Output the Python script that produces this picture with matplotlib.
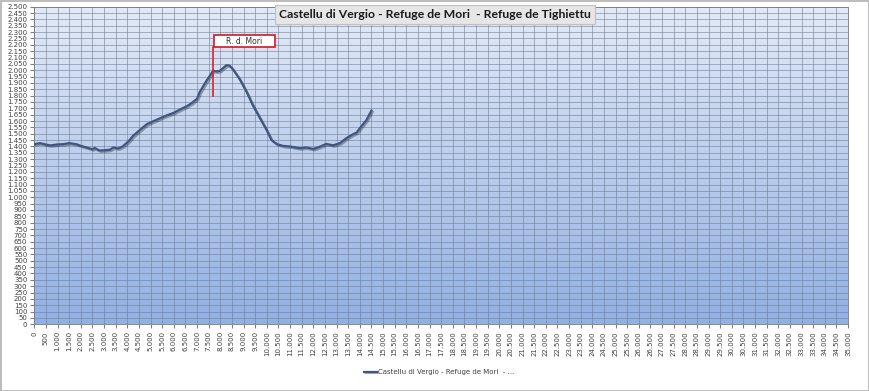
import matplotlib.pyplot as plt
import matplotlib.patheffects as pe
from matplotlib.patches import Rectangle
from matplotlib.ticker import MultipleLocator, FuncFormatter
import numpy as np

# distance (m) and elevation (m)
dist = [0, 250, 500, 700, 1000, 1250, 1500, 1800, 2000, 2250,
        2500, 2600, 2800, 3000, 3250, 3400, 3600, 3800, 4050, 4250,
        4550, 4830, 5100, 5400, 5700, 6000, 6250, 6550, 6760, 7000,
        7120, 7400, 7690, 7840, 7980, 8120, 8270, 8410, 8550, 8840,
        9130, 9410, 9700, 9990, 10200, 10420, 10700, 11000, 11420, 11700,
        12000, 12280, 12560, 12850, 13140, 13420, 13710, 13860, 14000, 14290,
        14500]
elev = [1418, 1426, 1415, 1408, 1416, 1418, 1426, 1418, 1405, 1392,
        1378, 1388, 1368, 1370, 1374, 1392, 1384, 1400, 1440, 1484,
        1531, 1574, 1597, 1621, 1645, 1665, 1689, 1716, 1740, 1775,
        1830, 1915, 1995, 1990, 1995, 2017, 2040, 2035, 2006, 1928,
        1830, 1720, 1625, 1530, 1451, 1420, 1404, 1400, 1386, 1392,
        1380, 1398, 1420, 1409, 1425, 1465, 1496, 1509, 1543, 1609,
        1682]

title = "Castellu di Vergio - Refuge de Mori  - Refuge de Tighiettu"
series_name = "Castellu di Vergio - Refuge de Mori  - ..."
marker_name = "R. d. Mori"
marker_dist = 7690
marker_elev = (1800, 2180)

fig = plt.figure(figsize=(8.7, 3.91), dpi=100)
ax = fig.add_axes([34.3 / 870, 1 - 324.3 / 391, (848 - 34.3) / 870, (324.3 - 6.7) / 391])

# gradient plot-area background
grad = np.linspace(0, 1, 256).reshape(-1, 1)
top = np.array([0.89, 0.92, 0.97])
bot = np.array([0.57, 0.69, 0.89])
img = top * (1 - grad[..., None]) + bot * grad[..., None]
img = np.repeat(img, 2, axis=1)
ax.imshow(img, extent=[0, 1, 0, 1], transform=ax.transAxes, aspect="auto", zorder=0)

ax.set_xlim(0, 35000)
ax.set_ylim(0, 2500)
ax.xaxis.set_major_locator(MultipleLocator(500))
ax.yaxis.set_major_locator(MultipleLocator(50))

fmt = FuncFormatter(lambda v, p: f"{int(round(v)):,}".replace(",", "."))
ax.xaxis.set_major_formatter(fmt)
ax.yaxis.set_major_formatter(fmt)
ax.tick_params(axis="x", labelsize=5, rotation=90, length=3, color="#808080",
               labelcolor="#404040", pad=2)
ax.tick_params(axis="y", labelsize=5, length=3, color="#808080",
               labelcolor="#404040", pad=2)
ax.grid(True, color="#6f7a8c", linewidth=0.7, alpha=0.55, zorder=1)
ax.set_axisbelow(False)
for s in ax.spines.values():
    s.set_color("#8a8a8a")
    s.set_linewidth(0.7)

line, = ax.plot(dist, elev, color="#3f5680", linewidth=1.6, zorder=4,
                label=series_name,
                path_effects=[pe.SimpleLineShadow(offset=(1, -1), alpha=0.3),
                              pe.Normal()])

# refuge marker
ax.plot([marker_dist, marker_dist], marker_elev, color="#e0202a", linewidth=1.2, zorder=5)
ax.add_patch(Rectangle((marker_dist + 30, marker_elev[1]), 2650, 100,
                       facecolor="white", edgecolor="#d01a24", linewidth=1.2, zorder=5))
ax.text(marker_dist + 30 + 1325, marker_elev[1] + 50, marker_name, ha="center",
        va="center", fontsize=5.5, color="#303030", zorder=6)

fig.text(0.5, 0.963, title, ha="center", va="center", fontsize=8.8,
         fontweight="bold", family="Lato", color="#1a1a1a",
         bbox=dict(boxstyle="square,pad=0.3", facecolor="#e6e6e6",
                   edgecolor="#c0c0c0", linewidth=0.8))

leg = fig.legend(handles=[line], loc="center", bbox_to_anchor=(0.505, 0.048),
                 frameon=False, fontsize=5, handlelength=1.8, handletextpad=0.2)
for t in leg.get_texts():
    t.set_color("#404040")

# outer frame
fig.patches.append(Rectangle((0.001, 0.001), 0.998, 0.996, transform=fig.transFigure,
                             fill=False, edgecolor="#b0b0b0", linewidth=1.2))

fig.savefig("out.png", dpi=100)
